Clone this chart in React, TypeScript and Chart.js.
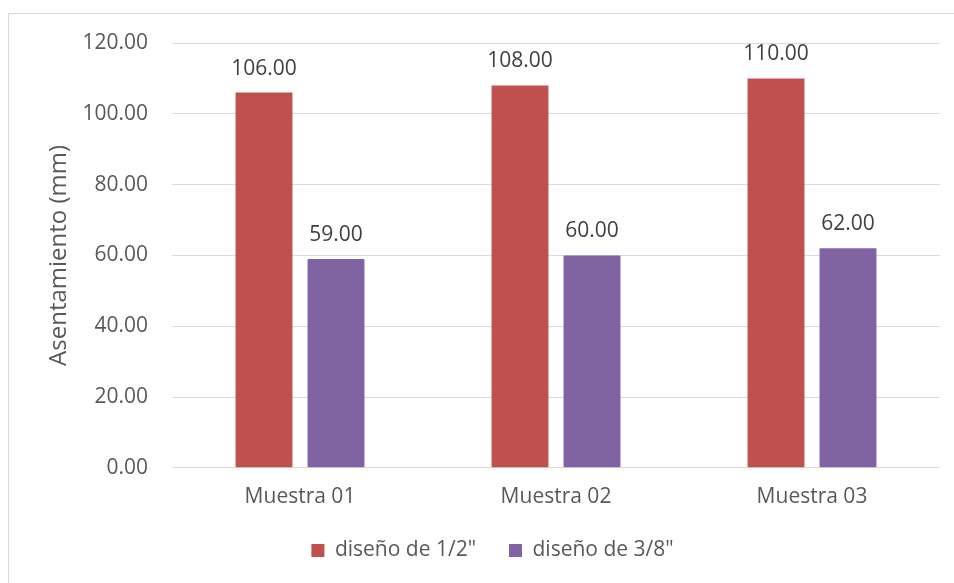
import React, { useEffect, useRef } from "react";
import { Chart, registerables } from "chart.js";

Chart.register(...registerables);

const categories = ["Muestra 01", "Muestra 02", "Muestra 03"];
const seriesNames = ['diseño de 1/2"', 'diseño de 3/8"'];
const halfInchValues = [106, 108, 110];
const threeEighthsValues = [59, 60, 62];
const seriesColors = ["#C0504D", "#8064A2"];
const yMin = 0;
const yMax = 120;
const yStep = 20;
const yTitle = "Asentamiento (mm)";

const FONT = "'Open Sans', 'Noto Sans', sans-serif";
const LEFT_PAD = 45;

const dataLabelPlugin = {
  id: "dataLabels",
  afterDatasetsDraw(chart: any) {
    const ctx = chart.ctx;
    ctx.save();
    ctx.font = `21px ${FONT}`;
    ctx.fillStyle = "#404040";
    ctx.textAlign = "center";
    ctx.textBaseline = "alphabetic";
    chart.data.datasets.forEach((ds: any, di: number) => {
      const meta = chart.getDatasetMeta(di);
      meta.data.forEach((el: any, i: number) => {
        const v = ds.data[i];
        ctx.fillText(Number(v).toFixed(2), el.x, el.y - 18);
      });
    });
    ctx.restore();
  },
};

export default function App() {
  const ref = useRef<HTMLCanvasElement | null>(null);
  useEffect(() => {
    if (!ref.current) return;
    const chart = new Chart(ref.current, {
      type: "bar",
      data: {
        labels: categories,
        datasets: [
          {
            label: seriesNames[0],
            data: halfInchValues,
            backgroundColor: seriesColors[0],
            categoryPercentage: 0.5625,
            barPercentage: 0.79,
          },
          {
            label: seriesNames[1],
            data: threeEighthsValues,
            backgroundColor: seriesColors[1],
            categoryPercentage: 0.5625,
            barPercentage: 0.79,
          },
        ],
      },
      options: {
        responsive: false,
        animation: false,
        layout: { padding: { left: LEFT_PAD, right: 14, top: 43, bottom: 12 } },
        plugins: {
          tooltip: { enabled: false },
          legend: {
            position: "bottom",
            labels: {
              color: "#595959",
              font: { family: FONT, size: 21 },
              boxWidth: 13,
              boxHeight: 13,
              padding: 33,
            },
          },
        },
        scales: {
          x: {
            grid: { display: false, drawTicks: false },
            border: { display: false },
            ticks: {
              color: "#595959",
              font: { family: FONT, size: 21 },
              padding: 17,
            },
            afterFit: (s: any) => {
              s.height = s.height - 20;
            },
          },
          y: {
            min: yMin,
            max: yMax,
            grid: { color: "#D9D9D9", lineWidth: 1, drawTicks: false },
            border: { display: false },
            ticks: {
              stepSize: yStep,
              color: "#595959",
              font: { family: FONT, size: 21 },
              padding: 24,
              callback: (v: any) => Number(v).toFixed(2),
            },
            title: {
              display: true,
              text: yTitle,
              color: "#595959",
              font: { family: FONT, size: 24 },
              padding: { top: 0, bottom: 4 },
            },
            afterFit: (s: any) => {
              s.width = 172 - LEFT_PAD;
            },
          },
        },
      },
      plugins: [dataLabelPlugin],
    });
    return () => chart.destroy();
  }, []);

  return (
    <div
      style={{
        position: "fixed",
        left: 0,
        top: 0,
        width: 954,
        height: 583,
        overflow: "hidden",
        background: "#FFFFFF",
      }}
    >
      <div
        style={{
          position: "absolute",
          left: 8,
          top: 13,
          width: 1200,
          height: 1200,
          border: "1px solid #D9D9D9",
        }}
      />
      <canvas
        ref={ref}
        width={954}
        height={583}
        style={{ position: "absolute", left: 0, top: 0, width: 954, height: 583 }}
      />
    </div>
  );
}
